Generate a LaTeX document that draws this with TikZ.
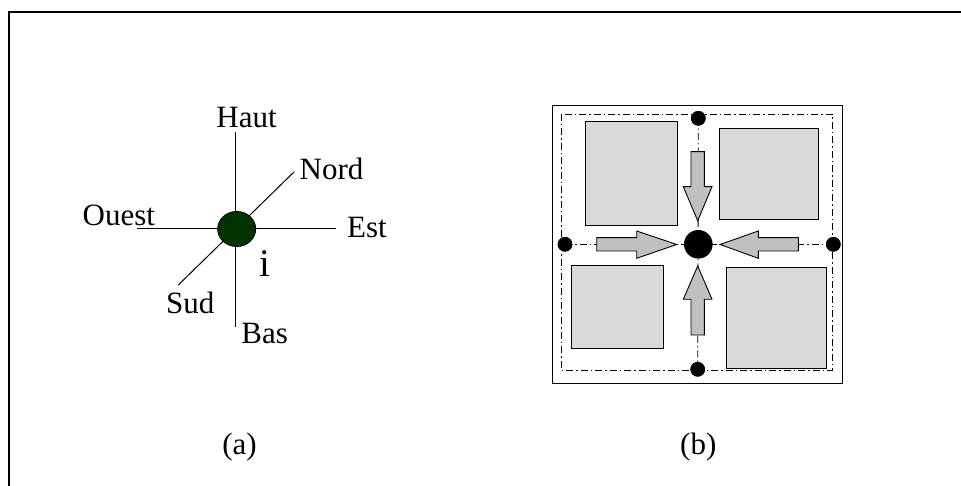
\documentclass[tikz,border=0pt]{standalone}
\usepackage{fontspec}
\setmainfont{Liberation Serif}
\usetikzlibrary{shapes.geometric}
\definecolor{dkgreen}{RGB}{0,51,0}
\definecolor{sqgray}{RGB}{217,217,217}
\definecolor{argray}{RGB}{192,192,192}
\begin{document}
\begin{tikzpicture}[x=1pt,y=-1pt,
  lbl/.style={anchor=base west,inner sep=0pt,font=\fontsize{31}{36}\selectfont},
  thin line/.style={line width=1pt},
  dashdot/.style={line width=0.9pt,dash pattern=on 7pt off 3pt on 1.5pt off 3pt},
  block/.style={draw,line width=0.9pt,fill=sqgray},
  bigarrow/.style={draw,line width=0.9pt,fill=argray,line join=miter},
  dot/.style={circle,fill=black,inner sep=0pt,minimum size=#1}]
\useasboundingbox (0,0) rectangle (961,486);
% frame
\draw[line width=2pt] (8.5,486) -- (8.5,12.5) -- (961,12.5);
% ---- (a) ----
\coordinate (hautend) at (235.7,131.7);
\coordinate (basend) at (235.7,327);
\coordinate (ouestend) at (137,228.5);
\coordinate (estend) at (336,228.5);
\coordinate (sudend) at (178.3,285);
\coordinate (nordend) at (294.3,171.7);
\draw[thin line] (hautend) -- (basend);
\draw[thin line] (ouestend) -- (estend);
\draw[thin line] (sudend) -- (nordend);
\node[ellipse,draw,line width=0.9pt,fill=dkgreen,minimum width=38pt,minimum height=35pt,inner sep=0pt] (c) at (236.7,229) {};
\node[lbl] (haut) at (216.2,127.3) {Haut};
\node[lbl] (nord) at (299.5,179.3) {Nord};
\node[lbl] (ouest) at (82.5,226) {Ouest};
\node[lbl] (est) at (347,237.7) {Est};
\node[lbl,font=\fontsize{39}{44}\selectfont] (i) at (259.5,276.7) {i};
\node[lbl] (sud) at (166,313.3) {Sud};
\node[lbl] (bas) at (241.2,343.3) {Bas};
\node[lbl] (capa) at (222.2,454) {(a)};
% ---- (b) ----
\draw[line width=1pt] (552,106) rectangle (842,383);
\draw[dashdot] (561,114) rectangle (832.3,370);
\node[dot=14.6pt] (ntop) at (698.3,118.3) {};
\node[dot=14.6pt] (nbot) at (697.7,369.3) {};
\node[dot=14.6pt] (nleft) at (565,244.3) {};
\node[dot=14.6pt] (nright) at (833.3,244.3) {};
\draw[dashdot] (ntop.center) -- (nbot.center);
\draw[dashdot] (nleft.center) -- (nright.center);
\draw[block] (585,121.7) rectangle (677.3,225);
\draw[block] (719.3,128.3) rectangle (818.7,219.3);
\draw[block] (571,265.7) rectangle (663.3,348.3);
\draw[block] (726.7,267.3) rectangle (826,368.3);
% arrows
\draw[bigarrow] (691,151.7) -- (704.3,151.7) -- (704.3,186.7) -- (712,186.7) -- (697.7,220.7) -- (683.3,186.7) -- (691,186.7) -- cycle;
\draw[bigarrow] (691,335) -- (704.3,335) -- (704.3,299.3) -- (712,299.3) -- (697.7,266) -- (683.3,299.3) -- (691,299.3) -- cycle;
\draw[bigarrow] (596.7,237.7) -- (636.7,237.7) -- (636.7,231) -- (676.7,244.5) -- (636.7,258.3) -- (636.7,251) -- (596.7,251) -- cycle;
\draw[bigarrow] (798.3,237.7) -- (758.3,237.7) -- (758.3,231) -- (720,244.5) -- (758.3,258.3) -- (758.3,251) -- (798.3,251) -- cycle;
% redraw dots on top
\node[dot=14.6pt] at (ntop) {};
\node[dot=14.6pt] at (nbot) {};
\node[dot=14.6pt] at (nleft) {};
\node[dot=14.6pt] at (nright) {};
\node[dot=28.6pt] (center) at (698.3,244.3) {};
\node[lbl] (capb) at (680,454) {(b)};
\end{tikzpicture}
\end{document}
